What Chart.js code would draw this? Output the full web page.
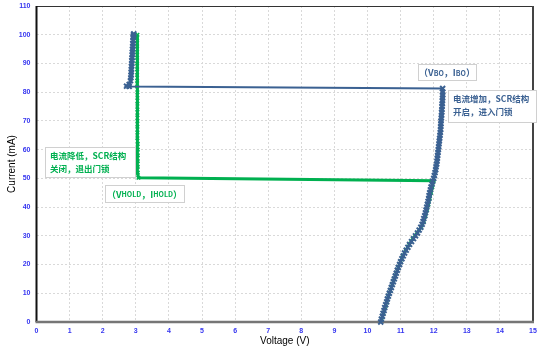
<!DOCTYPE html>
<html>
<head>
<meta charset="utf-8">
<script src="https://cdn.jsdelivr.net/npm/chart.js@4.4.1/dist/chart.umd.min.js"></script>
<style>
  html, body { margin: 0; padding: 0; background: #fff; }
  .wrap { position: relative; width: 544px; height: 354px; }
</style>
</head>
<body>
<div class="wrap"><canvas id="c" width="544" height="354"></canvas></div>
<script>
// turn-on branch (blue): rising curve, jump left at ~82 mA, then up to 100 mA
const onVoltage = [10.40, 10.42, 10.45, 10.47, 10.50, 10.52, 10.55, 10.58, 10.60, 10.63, 10.66, 10.69, 10.72, 10.75, 10.78, 10.81, 10.84, 10.87, 10.90, 10.93,
  10.97, 11.00, 11.04, 11.08, 11.12, 11.17, 11.22, 11.27, 11.33, 11.39, 11.45, 11.51, 11.56, 11.61, 11.65, 11.68, 11.70, 11.73, 11.75, 11.77,
  11.79, 11.81, 11.83, 11.85, 11.86, 11.88, 11.90, 11.92, 11.95, 11.97, 12.00, 12.02, 12.04, 12.06, 12.07, 12.09, 12.10, 12.11, 12.12, 12.13,
  12.14, 12.15, 12.16, 12.17, 12.18, 12.19, 12.20, 12.21, 12.21, 12.22, 12.22, 12.23, 12.24, 12.24, 12.25, 12.25, 12.26, 12.26, 12.27, 12.27, 12.27, 12.27,
  2.80, 2.72, 2.80, 2.84, 2.85, 2.86, 2.86, 2.87, 2.87, 2.88, 2.88, 2.89, 2.89, 2.90, 2.90, 2.91, 2.91, 2.92, 2.92, 2.93, 2.93, 2.94];
const onCurrent = [0, 1, 2, 3, 4, 5, 6, 7, 8, 9, 10, 11, 12, 13, 14, 15, 16, 17, 18, 19,
  20, 21, 22, 23, 24, 25, 26, 27, 28, 29, 30, 31, 32, 33, 34, 35, 36, 37, 38, 39,
  40, 41, 42, 43, 44, 45, 46, 47, 48, 49, 50, 51, 52, 53, 54, 55, 56, 57, 58, 59,
  60, 61, 62, 63, 64, 65, 66, 67, 68, 69, 70, 71, 72, 73, 74, 75, 76, 77, 78, 79, 80, 81.3,
  82.0, 82.1, 82.7, 84, 85, 86, 87, 88, 89, 90, 91, 92, 93, 94, 95, 96, 97, 98, 99, 99.5, 100, 100.3];

// turn-off branch (green): down from 100 mA, jump right at ~50 mA, then down the curve
const offVoltage = [3.05, 3.04, 3.04, 3.04, 3.04, 3.04, 3.04, 3.04, 3.04, 3.04, 3.05, 3.05, 3.05, 3.05, 3.05, 3.05, 3.05, 3.05, 3.05, 3.06, 3.06, 3.06, 3.06, 3.06, 3.06, 3.08,
  12.00, 11.96, 11.92, 11.88, 11.84, 11.80, 11.75, 11.70, 11.62, 11.50, 11.37, 11.26, 11.16, 11.07, 11.00, 10.93, 10.87, 10.81, 10.75, 10.69, 10.63, 10.58, 10.53, 10.48, 10.43];
const offCurrent = [100, 98, 96, 94, 92, 90, 88, 86, 84, 82, 80, 78, 76, 74, 72, 70, 68, 66, 64, 62, 60, 58, 56, 54, 52, 50.2,
  49.2, 47, 45, 43, 41, 39, 37, 35, 33, 31, 29, 27, 25, 23, 21, 19, 17, 15, 13, 11, 9, 7, 5, 3, 1];

const xTicks = [0, 15, 1];
const yTicks = [0, 110, 10];

const BLUE = '#3b6192';
const GREEN = '#00b050';

const toPts = (xs, ys) => xs.map((x, i) => ({ x, y: ys[i] }));

const notes = [
  { lines: [['（V', 9], ['BO', 7], ['，I', 9], ['BO', 7], ['）', 9]], box: [418, 64, 58, 16], color: BLUE, center: true },
  { lines: ['电流增加，SCR结构', '开启，进入门锁'], box: [448, 90, 88, 32], color: BLUE },
  { lines: ['电流降低，SCR结构', '关闭，退出门锁'], box: [45, 147, 90, 30], color: GREEN },
  { lines: [['（V', 9], ['HOLD', 7], ['，I', 9], ['HOLD', 7], ['）', 9]], box: [105, 185, 79, 17], color: GREEN, center: true },
];

const framePlugin = {
  id: 'frame',
  beforeDatasetsDraw(chart) {
    const { ctx, chartArea: a } = chart;
    ctx.save();
    ctx.lineWidth = 1;
    ctx.strokeStyle = '#333';
    ctx.beginPath(); ctx.moveTo(a.left, a.top + 0.5); ctx.lineTo(a.right, a.top + 0.5); ctx.stroke();
    ctx.lineWidth = 2;
    ctx.strokeStyle = '#444';
    ctx.beginPath(); ctx.moveTo(a.right, a.top); ctx.lineTo(a.right, a.bottom); ctx.stroke();
    ctx.strokeStyle = '#111';
    ctx.beginPath(); ctx.moveTo(a.left, a.top); ctx.lineTo(a.left, a.bottom); ctx.stroke();
    ctx.lineWidth = 2.5;
    ctx.strokeStyle = '#767676';
    ctx.beginPath(); ctx.moveTo(a.left - 1, a.bottom); ctx.lineTo(a.right + 1, a.bottom); ctx.stroke();
    ctx.restore();
  },
  afterDraw(chart) {
    const ctx = chart.ctx;
    ctx.save();
    notes.forEach(n => {
      const [x, y, w, h] = n.box;
      ctx.fillStyle = '#fff';
      ctx.fillRect(x, y, w, h);
      ctx.strokeStyle = '#d0d0d0';
      ctx.lineWidth = 1;
      ctx.strokeRect(x + 0.5, y + 0.5, w, h);
      ctx.fillStyle = n.color;
      ctx.textBaseline = 'middle';
      if (n.center) {
        let total = 0;
        n.lines.forEach(([t, s]) => { ctx.font = `bold ${s}px "Noto Sans CJK SC"`; total += ctx.measureText(t).width; });
        let cx = x + (w - total) / 2;
        n.lines.forEach(([t, s]) => {
          ctx.font = `bold ${s}px "Noto Sans CJK SC"`;
          ctx.fillText(t, cx, y + h / 2 + 1);
          cx += ctx.measureText(t).width;
        });
      } else {
        ctx.font = 'bold 8.5px "Noto Sans CJK SC"';
        ctx.textAlign = 'left';
        n.lines.forEach((t, i) => ctx.fillText(t, x + 5, y + 9 + i * 12.5));
      }
    });
    ctx.restore();
  }
};

const tickFont = { family: '"Liberation Sans", Arial', size: 7, weight: 'bold' };

new Chart(document.getElementById('c'), {
  type: 'line',
  data: {
    datasets: [
      {
        data: toPts(onVoltage, onCurrent),
        borderColor: BLUE,
        backgroundColor: BLUE,
        borderWidth: 2,
        pointStyle: 'crossRot',
        pointRadius: 3.5,
        pointBorderWidth: 2,
        pointBorderColor: BLUE,
        tension: 0,
      },
      {
        data: toPts(offVoltage, offCurrent),
        borderColor: GREEN,
        backgroundColor: GREEN,
        borderWidth: 3,
        pointStyle: 'crossRot',
        pointRadius: 2.5,
        pointBorderWidth: 1.5,
        pointBorderColor: GREEN,
        tension: 0,
      },
    ],
  },
  options: {
    responsive: false,
    animation: false,
    clip: false,
    layout: { padding: { left: 0, right: 11, top: 0, bottom: 0 } },
    plugins: { legend: { display: false }, tooltip: { enabled: false } },
    scales: {
      x: {
        type: 'linear',
        min: xTicks[0], max: xTicks[1],
        afterFit: s => { s.height = 32; s.paddingLeft = 0; s.paddingRight = 0; },
        ticks: { stepSize: xTicks[2], color: '#3535f0', font: tickFont, padding: 5, maxRotation: 0 },
        grid: { color: '#d9d9d9', drawTicks: false },
        border: { display: false, dash: [2, 2] },
        title: { display: true, text: 'Voltage (V)', color: '#000', font: { family: '"Liberation Sans", Arial', size: 10 }, padding: { top: 0, bottom: 7 } },
      },
      y: {
        type: 'linear',
        min: yTicks[0], max: yTicks[1],
        afterFit: s => { s.width = 36.5; s.paddingTop = 5.5; s.paddingBottom = 0; },
        ticks: { stepSize: yTicks[2], color: '#3535f0', font: tickFont, padding: 6 },
        grid: { color: '#d9d9d9', drawTicks: false },
        border: { display: false, dash: [2, 2] },
        title: { display: true, text: 'Current (mA)', color: '#000', font: { family: '"Liberation Sans", Arial', size: 10 }, padding: { top: 6, bottom: 0 } },
      },
    },
  },
  plugins: [framePlugin],
});
</script>
</body>
</html>
